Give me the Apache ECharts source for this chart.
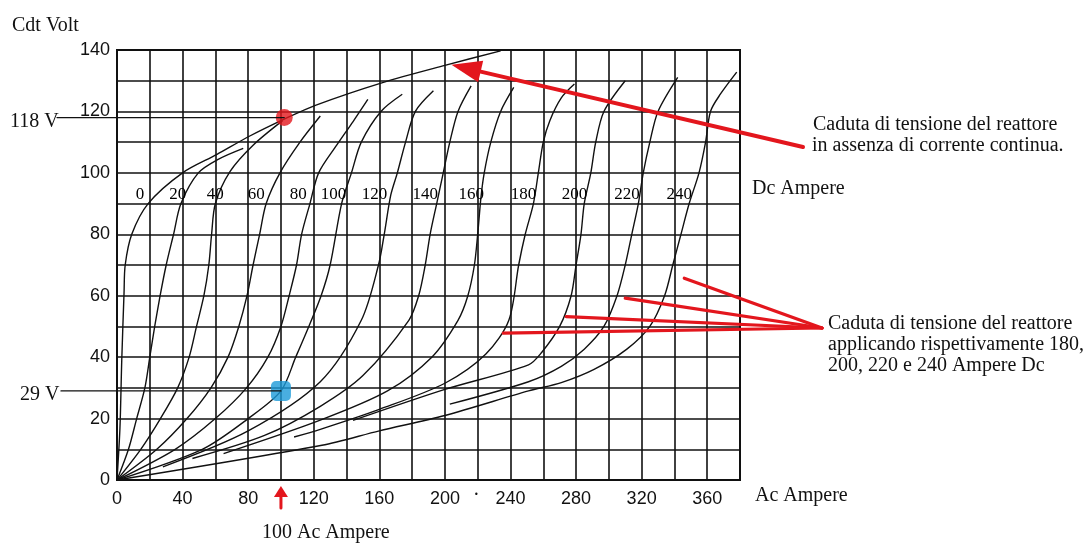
<!DOCTYPE html>
<html>
<head>
<meta charset="utf-8">
<script src="https://cdn.jsdelivr.net/npm/echarts/dist/echarts.min.js"></script>
<style>
html,body{margin:0;padding:0;background:#fff;}
#chart{width:1083px;height:543px;}
</style>
</head>
<body>
<div id="chart"></div>
<script>
// ---------------- DATA ----------------
const acTickLabels = [0, 40, 80, 120, 160, 200, 240, 280, 320, 360];
const voltTickLabels = [0, 20, 40, 60, 80, 100, 120, 140];
const dcValues = [0, 20, 40, 60, 80, 100, 120, 140, 160, 180, 200, 220, 240];

// each curve: [Ac Ampere, Cdt Volt]
const curveDc0 = [[0,0],[1.8,17],[2.9,39],[4.3,61],[5,70],[9,80],[19,90],[40,100],[61,106],[81,112],[102,117.5],[121,122],[162,129.4],[200,135],[234,139.7]];
const curveDc20 = [[0,0],[7,10],[12,20],[17,30],[20,40],[23,50],[26.3,60],[30,70],[34.5,80],[39,90],[49.6,100],[62,104.5],[77,108]];
const curveDc40 = [[0,0],[14.5,10],[26.5,20],[37,30],[44,40],[48.5,50],[53,60],[56,70],[57.7,80],[60,90],[68.9,100.4],[83,109],[101,117]];
const curveDc60 = [[0,0],[24.3,10],[42.7,20],[57.3,30],[67.7,40],[74.3,50],[79.3,60],[83,70],[87,80],[91,90],[99.4,100],[111.6,110],[124,118.5]];
const curveDc80 = [[0,0],[35.5,10],[60,20],[79,30],[92,40],[100,50],[105,60],[109.5,70],[112.6,80],[117.7,90],[123,100],[134,109],[144,116.7],[153,123.9]];
const curveDc100 = [[0,0],[52,10],[80,20],[100,29],[109,40],[117,50],[124.5,60],[130,70],[137,90],[143,100],[149,110],[161,120],[174,125.6]];
const curveDc120 = [[28,4.3],[80,16],[124,32],[149,52],[159.5,70],[163,80],[167,92.8],[171,100],[176,110],[182,120],[193,126.7]];
const curveDc140 = [[46,7],[90,14.5],[124,24],[150,34],[178,52],[184,60],[188,70],[191,80],[195,90],[199,100],[203,110],[208,120],[216,128.3]];
const curveDc160 = [[65,8.6],[124,19.5],[165,29],[192,40],[208,52],[214,60],[218,70],[220,80],[222,92],[224,100],[228,110],[234,120],[242,127.8]];
const curveDc180 = [[108,14],[124,16.5],[160,23],[200,31.5],[225,41],[239,52],[245,70],[249,80],[254,90],[257,100],[260,110],[264,117],[271,124.4],[279,128.9]];
const curveDc200 = [[144,19.4],[200,29.5],[251,37.5],[259,41.5],[270,50],[277,60],[280,70],[283,80],[285,90],[289,100],[292,110],[297,120],[310,130]];
const curveDc220 = [[203,24.7],[251,32],[271,37],[285,42.6],[297,50],[305,60],[310,70],[314,80],[318,90],[321,100],[325,110],[330,120],[342,131.1]];
const curveDc240 = [[0,0],[125,11.3],[160,16],[200,21],[251,29],[271,31.7],[291,36],[311,42.6],[325,50],[334,60],[339,70],[344,80],[349,90],[355,100],[359,110],[362,120],[368,125.6],[378,132.8]];
const dcCurves = [curveDc0, curveDc20, curveDc40, curveDc60, curveDc80, curveDc100, curveDc120, curveDc140, curveDc160, curveDc180, curveDc200, curveDc220, curveDc240];

// curve labels (Dc Ampere) anchored in chart units
const dcLabelAc = [14, 37, 60, 85, 110.5, 132, 157, 188, 216, 248, 279, 311, 343];
const dcLabelVolt = 93;

// highlighted points
const pointNoLoad = [102, 118];   // 118 V
const pointBlue = [100, 29];      // 29 V at 100 Ac Ampere
const arrowNoDcTip = [204, 135.2];
const arrowDcTips = [[346, 65.7], [310, 59.2], [274, 53.2], [235.6, 47.8]];

// ---------------- CHART ----------------
const RED = '#e3161d';
const INK = '#111';
const chart = echarts.init(document.getElementById('chart'), null, {renderer: 'canvas'});

const series = dcCurves.map((c, i) => ({
  name: 'Dc ' + dcValues[i],
  type: 'line',
  data: c,
  smooth: 0.3,
  symbol: 'none',
  lineStyle: {color: INK, width: 1.4},
  z: 3,
  silent: true
}));

series.push({
  type: 'scatter',
  data: dcLabelAc.map((x, i) => [x, dcLabelVolt, dcValues[i]]),
  symbol: 'circle',
  symbolSize: 0.1,
  itemStyle: {color: INK, opacity: 1},
  label: {
    show: true, position: 'inside', opacity: 1,
    formatter: p => String(p.value[2]),
    fontFamily: '"Liberation Serif", serif', fontSize: 17, color: '#000',
    textBorderWidth: 0
  },
  z: 4, silent: true
});
series.push({
  type: 'scatter', data: [pointNoLoad], symbol: 'circle', symbolSize: 17,
  itemStyle: {color: RED}, z: 6, silent: true
});
series.push({
  type: 'scatter', data: [pointBlue], symbol: 'roundRect', symbolSize: [20, 20],
  itemStyle: {color: '#1b9ad8'}, z: 6, silent: true
});

const option = {
  animation: false,
  backgroundColor: '#fff',
  grid: {left: 117, right: 343, top: 50, bottom: 63, show: true, borderColor: INK, borderWidth: 2, backgroundColor: 'rgba(0,0,0,0)'},
  xAxis: {
    type: 'value', min: 0, max: 380, interval: 20,
    axisLine: {show: true, lineStyle: {color: INK, width: 2}},
    axisTick: {show: false},
    splitLine: {show: true, lineStyle: {color: INK, width: 1.6}},
    axisLabel: {
      color: INK, fontSize: 18, fontFamily: '"Liberation Sans", Arial, sans-serif', margin: 10,
      formatter: v => acTickLabels.indexOf(v) >= 0 ? String(v) : ''
    }
  },
  yAxis: {
    type: 'value', min: 0, max: 140, interval: 10,
    axisLine: {show: true, lineStyle: {color: INK, width: 2}},
    axisTick: {show: false},
    splitLine: {show: true, lineStyle: {color: INK, width: 1.6}},
    axisLabel: {
      color: INK, fontSize: 18, fontFamily: '"Liberation Sans", Arial, sans-serif', margin: 7,
      formatter: v => voltTickLabels.indexOf(v) >= 0 ? String(v) : ''
    }
  },
  series: series
};
chart.setOption(option);

// ---------------- ANNOTATIONS ----------------
const px = p => chart.convertToPixel({gridIndex: 0}, p);
const serif = '20px "Liberation Serif", "Times New Roman", serif';
function txt(t, x, y) {
  return {type: 'text', z: 10, silent: true, style: {text: t, x: x, y: y, font: serif, fill: INK, textVerticalAlign: 'middle'}};
}
function seg(x1, y1, x2, y2, color, w) {
  return {type: 'line', z: 9, silent: true, shape: {x1, y1, x2, y2}, style: {stroke: color, lineWidth: w, lineCap: 'round'}};
}

const pRed = px(pointNoLoad);
const pBlue = px(pointBlue);
const tip1 = px(arrowNoDcTip);
const g = [];
g.push(txt('Cdt Volt', 12, 26));
g.push(txt('118 V', 10, 122));
g.push(seg(57, pRed[1], pRed[0], pRed[1], INK, 1.3));
g.push(txt('29 V', 20, 395));
g.push(seg(61, pBlue[1], pBlue[0], pBlue[1], INK, 1.3));
g.push(txt('100 Ac Ampere', 262, 533));
g.push(txt('Ac Ampere', 755, 496));
g.push(txt('Dc Ampere', 752, 189));
g.push(txt('·', 473, 496));
g.push(txt('Caduta di tensione del reattore', 813, 125));
g.push(txt('in assenza di corrente continua.', 812, 146));
g.push(txt('Caduta di tensione del reattore', 828, 324));
g.push(txt('applicando rispettivamente 180,', 828, 345));
g.push(txt('200, 220 e 240 Ampere Dc', 828, 366));

// small red up arrow under 100 Ac Ampere
const ax = pBlue[0];
g.push(seg(ax, 496, ax, 508, RED, 3));
g.push({type: 'polygon', z: 9, silent: true, shape: {points: [[ax, 486], [ax - 7, 497], [ax + 7, 497]]}, style: {fill: RED}});

// big arrow to the no-DC curve
const start1 = [803, 147];
const dx = start1[0] - tip1[0], dy = start1[1] - tip1[1];
const L = Math.sqrt(dx * dx + dy * dy), ux = dx / L, uy = dy / L;
const hl = 30, hw = 11;
const bx = tip1[0] + ux * hl, by = tip1[1] + uy * hl;
g.push(seg(start1[0], start1[1], bx, by, RED, 4));
g.push({type: 'polygon', z: 9, silent: true, shape: {points: [[tip1[0], tip1[1]], [bx - uy * hw, by + ux * hw], [bx + uy * hw, by - ux * hw]]}, style: {fill: RED}});

// converging red lines to 180..240 curves
const conv = [822, 328];
arrowDcTips.forEach(p => {
  const q = px(p);
  g.push(seg(q[0], q[1], conv[0], conv[1], RED, 3.2));
});

chart.setOption({graphic: g});
</script>
</body>
</html>
